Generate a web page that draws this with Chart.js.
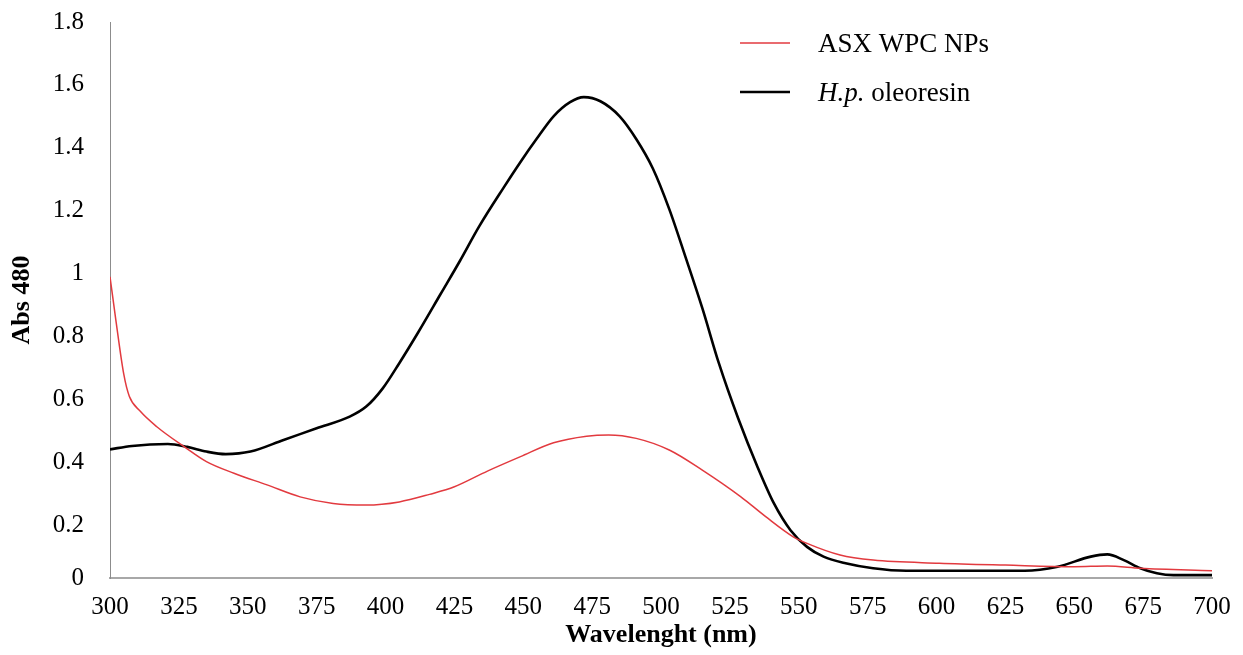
<!DOCTYPE html>
<html>
<head>
<meta charset="utf-8">
<script src="https://cdn.jsdelivr.net/npm/chart.js@4"></script>
<style>
  body { margin: 0; background: #fff; }
</style>
</head>
<body>
<canvas id="spectrum" width="1243" height="655"></canvas>
<script>
// Absorbance spectra, wavelength in nm
const asxWavelength = [300, 302, 305, 307, 311, 317, 327, 335, 345, 357, 369, 381, 393, 405, 416, 425, 437, 449, 461, 473, 481, 491, 503, 515, 529, 538, 548, 553, 565, 577, 601, 625, 650, 662, 674, 700];
const asxAbs = [0.99, 0.86, 0.68, 0.61, 0.562, 0.513, 0.449, 0.402, 0.365, 0.328, 0.290, 0.269, 0.264, 0.274, 0.298, 0.322, 0.372, 0.418, 0.462, 0.483, 0.487, 0.476, 0.439, 0.375, 0.290, 0.227, 0.163, 0.142, 0.105, 0.089, 0.079, 0.073, 0.068, 0.070, 0.063, 0.055];

const hpWavelength = [300, 308, 321, 328, 335, 342, 351, 363, 375, 387, 393, 399, 405, 412, 420, 427, 434, 443, 449, 455, 461, 467, 472, 478, 485, 491, 497, 503, 509, 515, 521, 528, 535, 541, 547, 553, 559, 567, 577, 589, 613, 632, 644, 656, 662, 668, 674, 680, 686, 700];
const hpAbs = [0.441, 0.452, 0.458, 0.449, 0.434, 0.426, 0.434, 0.471, 0.508, 0.545, 0.577, 0.635, 0.715, 0.815, 0.935, 1.040, 1.150, 1.275, 1.355, 1.430, 1.500, 1.545, 1.561, 1.548, 1.500, 1.428, 1.335, 1.205, 1.050, 0.890, 0.715, 0.540, 0.386, 0.269, 0.184, 0.131, 0.100, 0.079, 0.063, 0.055, 0.055, 0.055, 0.068, 0.100, 0.107, 0.089, 0.063, 0.047, 0.041, 0.041];

const xTicks = [300, 325, 350, 375, 400, 425, 450, 475, 500, 525, 550, 575, 600, 625, 650, 675, 700];
const yTicks = [0, 0.2, 0.4, 0.6, 0.8, 1, 1.2, 1.4, 1.6, 1.8];

// legend entries: [text, italic] segments
const legendLabels = [
    [['ASX WPC NPs', false]],
    [['H.p.', true], [' oleoresin', false]]
];

const serif = '"Liberation Serif", "Times New Roman", serif';
// x axis crosses slightly above zero; its label still reads 0
const yBottom = 0.032;

function toPoints(xs, ys) {
    return xs.map((x, i) => ({ x: x, y: ys[i] }));
}

// Draws the legend in the top right corner of the plot
const lineLegend = {
    id: 'lineLegend',
    afterDraw(chart) {
        const ctx = chart.ctx;
        const area = chart.chartArea;
        const x0 = area.right - 472;
        const y0 = area.top + 21;
        ctx.save();
        chart.data.datasets.forEach((ds, i) => {
            const y = y0 + i * 49;
            ctx.strokeStyle = ds.borderColor;
            ctx.lineWidth = ds.borderWidth;
            ctx.beginPath();
            ctx.moveTo(x0, y);
            ctx.lineTo(x0 + 50, y);
            ctx.stroke();
            let tx = x0 + 78;
            ctx.fillStyle = '#000';
            ctx.textBaseline = 'middle';
            legendLabels[i].forEach(seg => {
                ctx.font = (seg[1] ? 'italic ' : '') + '27px ' + serif;
                ctx.fillText(seg[0], tx, y + 2);
                tx += ctx.measureText(seg[0]).width;
            });
        });
        ctx.restore();
    }
};

new Chart(document.getElementById('spectrum'), {
    type: 'line',
    data: {
        datasets: [{
            label: 'ASX WPC NPs',
            data: toPoints(asxWavelength, asxAbs),
            borderColor: '#e23a3f',
            borderWidth: 1.5,
            pointRadius: 0,
            cubicInterpolationMode: 'monotone'
        }, {
            label: 'H.p. oleoresin',
            data: toPoints(hpWavelength, hpAbs),
            borderColor: '#000000',
            borderWidth: 2.6,
            pointRadius: 0,
            cubicInterpolationMode: 'monotone'
        }]
    },
    options: {
        responsive: false,
        animation: false,
        layout: { padding: { top: 22, right: 31, bottom: 0, left: 0 } },
        plugins: {
            legend: { display: false },
            tooltip: { enabled: false }
        },
        scales: {
            x: {
                type: 'linear',
                min: 300,
                max: 700,
                afterBuildTicks: axis => { axis.ticks = xTicks.map(v => ({ value: v })); },
                afterFit: scale => {
                    scale.height = 77;
                    scale.paddingLeft = 0;
                    scale.paddingRight = 0;
                },
                grid: { display: false, drawTicks: false },
                border: { color: '#a8a8a8', width: 2 },
                ticks: { color: '#000', padding: 14, font: { family: serif, size: 25 } },
                title: {
                    display: true,
                    text: 'Wavelenght (nm)',
                    color: '#000',
                    padding: { top: 0, bottom: 4 },
                    font: { family: serif, size: 26, weight: 'bold' }
                }
            },
            y: {
                min: yBottom,
                max: 1.8,
                afterBuildTicks: axis => {
                    axis.ticks = yTicks.map(v => ({ value: v === 0 ? yBottom : v }));
                },
                afterFit: scale => {
                    scale.width = 110;
                    scale.paddingTop = 0;
                    scale.paddingBottom = 0;
                },
                grid: { display: false, drawTicks: false },
                border: { color: '#8c8c8c', width: 1 },
                ticks: {
                    color: '#000',
                    padding: 26,
                    font: { family: serif, size: 25 },
                    callback: (v, i) => (i === 0 ? '0' : String(Math.round(v * 10) / 10))
                },
                title: {
                    display: true,
                    text: 'Abs 480',
                    color: '#000',
                    padding: { top: 7, bottom: 0 },
                    font: { family: serif, size: 26, weight: 'bold' }
                }
            }
        }
    },
    plugins: [lineLegend]
});
</script>
</body>
</html>
